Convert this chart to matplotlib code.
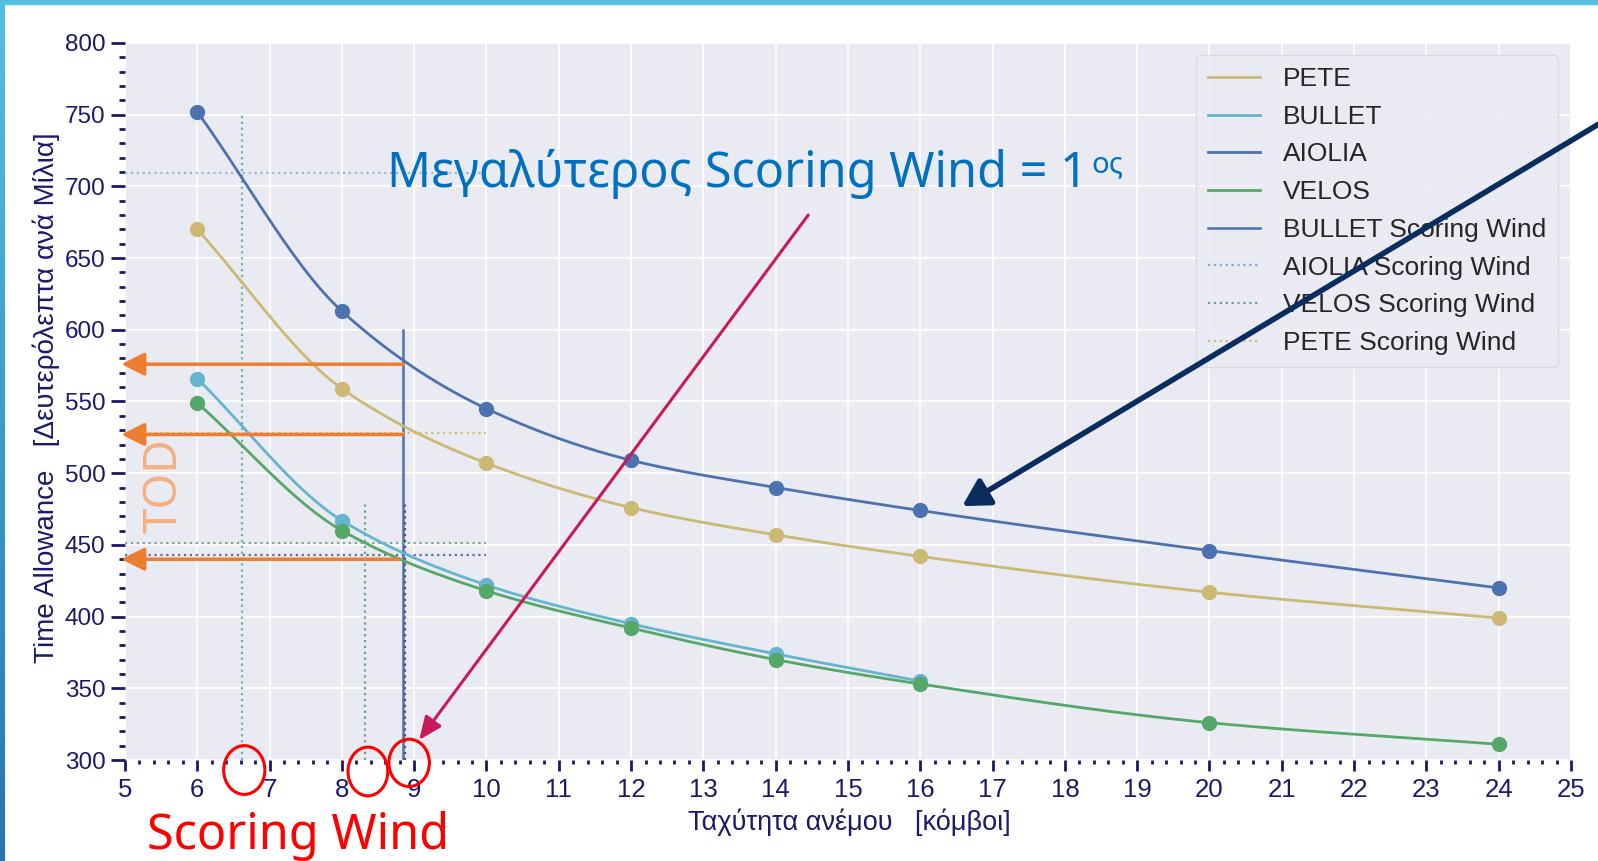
import numpy as np
import matplotlib.pyplot as plt
from matplotlib.patches import Ellipse, Rectangle
from matplotlib.colors import LinearSegmentedColormap
from matplotlib.ticker import MultipleLocator

plt.rcParams['font.family'] = ['Liberation Sans', 'DejaVu Sans']

# Ταχύτητα ανέμου (κόμβοι) και Time Allowance (sec/mile)
wind = [6, 8, 10, 12, 14, 16, 20, 24]
pete = [670, 559, 507, 476, 457, 442, 417, 399]
aiolia = [752, 613, 545, 509, 490, 474, 446, 420]
velos = [549, 460, 418, 392, 370, 353, 326, 311]
bullet_wind = [6, 8, 10, 12, 14, 16]
bullet = [566, 467, 422, 395, 374, 355]

# scoring wind ανά σκάφος, TOD στο scoring wind, ύψος κάθετης γραμμής
sw_names = ['BULLET', 'AIOLIA', 'VELOS', 'PETE']
sw_wind = [8.85, 6.62, 8.32, 8.87]
sw_tod = [443, 709, 451, 528]
sw_top = [600, 750, 479, 479]

# TOD που δείχνουν τα πορτοκαλί βέλη (στο scoring wind του BULLET)
tod_arrows = [576, 527, 440]

navy = '#1a1a6b'
c_pete, c_bullet, c_aiolia, c_velos = '#ccb974', '#64b5cd', '#4c72b0', '#55a868'


def smooth(x, y, n=300):
    # monotone cubic hermite (Fritsch-Carlson) για ομαλή καμπύλη
    x = np.asarray(x, float)
    y = np.asarray(y, float)
    h = np.diff(x)
    d = np.diff(y) / h
    m = np.zeros_like(y)
    m[0], m[-1] = d[0], d[-1]
    for i in range(1, len(x) - 1):
        if d[i - 1] * d[i] > 0:
            w1 = 2 * h[i] + h[i - 1]
            w2 = h[i] + 2 * h[i - 1]
            m[i] = (w1 + w2) / (w1 / d[i - 1] + w2 / d[i])
    xs = np.linspace(x[0], x[-1], n)
    k = np.clip(np.searchsorted(x, xs) - 1, 0, len(x) - 2)
    t = (xs - x[k]) / h[k]
    h00 = 2 * t**3 - 3 * t**2 + 1
    h10 = t**3 - 2 * t**2 + t
    h01 = -2 * t**3 + 3 * t**2
    h11 = t**3 - t**2
    ys = h00 * y[k] + h10 * h[k] * m[k] + h01 * y[k + 1] + h11 * h[k] * m[k + 1]
    return xs, ys


fig = plt.figure(figsize=(15.98, 8.61), dpi=100)
ax = fig.add_axes([0.0782, 0.1173, 0.9049, 0.8328])
ax.set_facecolor('#eaeaf2')
for s in ax.spines.values():
    s.set_visible(False)
ax.grid(True, which='major', color='white', lw=1.2)
ax.set_axisbelow(True)

handles = {}
for name, xs_, ys_, col in [('PETE', wind, pete, c_pete), ('BULLET', bullet_wind, bullet, c_bullet),
                            ('AIOLIA', wind, aiolia, c_aiolia), ('VELOS', wind, velos, c_velos)]:
    sx, sy = smooth(xs_, ys_)
    handles[name], = ax.plot(sx, sy, color=col, lw=2, label=name, zorder=3)
    ax.plot(xs_, ys_, 'o', color=col, ms=10, zorder=4)

# scoring wind γραμμές
sw_style = {
    'BULLET': dict(color=c_aiolia, ls='-', lw=1.8),
    'AIOLIA': dict(color='#7fb0cf', ls=':', lw=1.6),
    'VELOS': dict(color='#6c9f94', ls=':', lw=1.6),
    'PETE': dict(color='#c9c07e', ls=':', lw=1.6),
}
vert_color = {'BULLET': c_aiolia, 'AIOLIA': '#6fb3ad', 'VELOS': '#6c9f94', 'PETE': '#4a5670'}
hor_color = {'BULLET': '#5a6fa0', 'AIOLIA': '#9bb8d6', 'VELOS': '#7aab8c', 'PETE': '#c9c07e'}
for name, w, t, top in zip(sw_names, sw_wind, sw_tod, sw_top):
    ax.plot([w, w], [300, top], color=vert_color[name], ls=sw_style[name]['ls'] if name != 'PETE' else ':',
            lw=sw_style[name]['lw'], zorder=2)
    ax.plot([5, 10], [t, t], color=hor_color[name], ls=':', lw=1.6, zorder=2)

legend_handles = [handles['PETE'], handles['BULLET'], handles['AIOLIA'], handles['VELOS']]
legend_labels = ['PETE', 'BULLET', 'AIOLIA', 'VELOS']
for name in sw_names:
    h, = ax.plot([], [], **sw_style[name])
    legend_handles.append(h)
    legend_labels.append(name + ' Scoring Wind')
leg = ax.legend(legend_handles, legend_labels, loc='upper right', bbox_to_anchor=(0.991, 0.983),
                borderaxespad=0, fontsize=19, frameon=True, facecolor='#eaeaf2', edgecolor='#d6d6de',
                handlelength=2.0, handletextpad=0.85, labelspacing=0.52, borderpad=0.45, fancybox=True)
for txt in leg.get_texts():
    txt.set_color('#262626')
leg.set_zorder(5)

ax.set_xlim(5, 25)
ax.set_ylim(300, 800)
ax.xaxis.set_major_locator(MultipleLocator(1))
ax.xaxis.set_minor_locator(MultipleLocator(0.2))
ax.yaxis.set_major_locator(MultipleLocator(50))
ax.yaxis.set_minor_locator(MultipleLocator(10))
ax.tick_params(axis='x', which='major', length=8, width=2, color=navy, labelcolor=navy,
               labelsize=18.5, pad=5)
ax.tick_params(axis='x', which='minor', length=3.2, width=2, color=navy)
ax.tick_params(axis='y', which='major', length=10, width=2, color=navy, labelcolor=navy,
               labelsize=17.5, pad=4)
ax.tick_params(axis='y', which='minor', length=4.3, width=2, color=navy)

ax.set_xlabel('Ταχύτητα ανέμου   [κόμβοι]', color=navy, fontsize=19.5)
ax.xaxis.set_label_coords(0.501, -0.068)
ax.set_ylabel('Time Allowance   [Δευτερόλεπτα ανά Μίλια]', color=navy, fontsize=20)
ax.yaxis.set_label_coords(-0.045, 0.505)

# σχόλια της διαφάνειας
big = ['Noto Sans', 'DejaVu Sans']
t1 = ax.text(8.62, 699.8, 'Μεγαλύτερος Scoring Wind = 1', color='#0070c0', fontsize=35,
             family=big, va='baseline', zorder=6)
ax.annotate('ος', xy=(1, 1), xycoords=t1, xytext=(3, -1), textcoords='offset points',
            color='#0070c0', fontsize=21, family=big, va='top', ha='left', zorder=6)
ax.text(5.55, 491, 'TOD', color='#f4b183', fontsize=33, family=big, rotation=90,
        ha='center', va='center', zorder=6)
fig.text(147 / 1598, 12 / 861, 'Scoring Wind', color='#ff0000', fontsize=35, family=big,
         va='baseline', ha='left')

for y in tod_arrows:
    x0 = sw_wind[0] if y > 500 else sw_wind[0] - 0.06
    ax.annotate('', xy=(4.95, y), xytext=(x0, y), annotation_clip=False,
                arrowprops=dict(arrowstyle='-|>,head_length=0.7,head_width=0.35', color='#ed7d31',
                                lw=2.5, mutation_scale=20, shrinkA=0, shrinkB=0), zorder=7)

ax.annotate('', xy=(9.07, 314), xytext=(14.45, 680), annotation_clip=False,
            arrowprops=dict(arrowstyle='-|>,head_length=0.7,head_width=0.3', color='#c8195a',
                            lw=2.2, mutation_scale=20, shrinkA=0, shrinkB=0), zorder=7)
ax.annotate('', xy=(16.58, 477), xytext=(25.6, 750), annotation_clip=False,
            arrowprops=dict(arrowstyle='-|>,head_length=0.8,head_width=0.45', color='#0b2c5f',
                            lw=4, mutation_scale=20, shrinkA=0, shrinkB=0), zorder=7)

for cx, cy, w, h in [(6.65, 293, 0.57, 34), (8.36, 292, 0.55, 34), (8.93, 298, 0.56, 33)]:
    ax.add_patch(Ellipse((cx, cy), w, h, fill=False, ec='#ff0000', lw=2.2, clip_on=False, zorder=8))

# πλαίσιο διαφάνειας
fig.patches.append(Rectangle((0, 1 - 4 / 861), 1, 4 / 861, transform=fig.transFigure,
                             color='#55bfe0', zorder=10))
bax = fig.add_axes([0, 0, 5 / 1598, 1])
bax.imshow(np.linspace(0, 1, 256)[:, None], aspect='auto',
           cmap=LinearSegmentedColormap.from_list('b', ['#55bfe0', '#2478b0']))
bax.axis('off')

fig.savefig('out.png', dpi=100, facecolor='white')
